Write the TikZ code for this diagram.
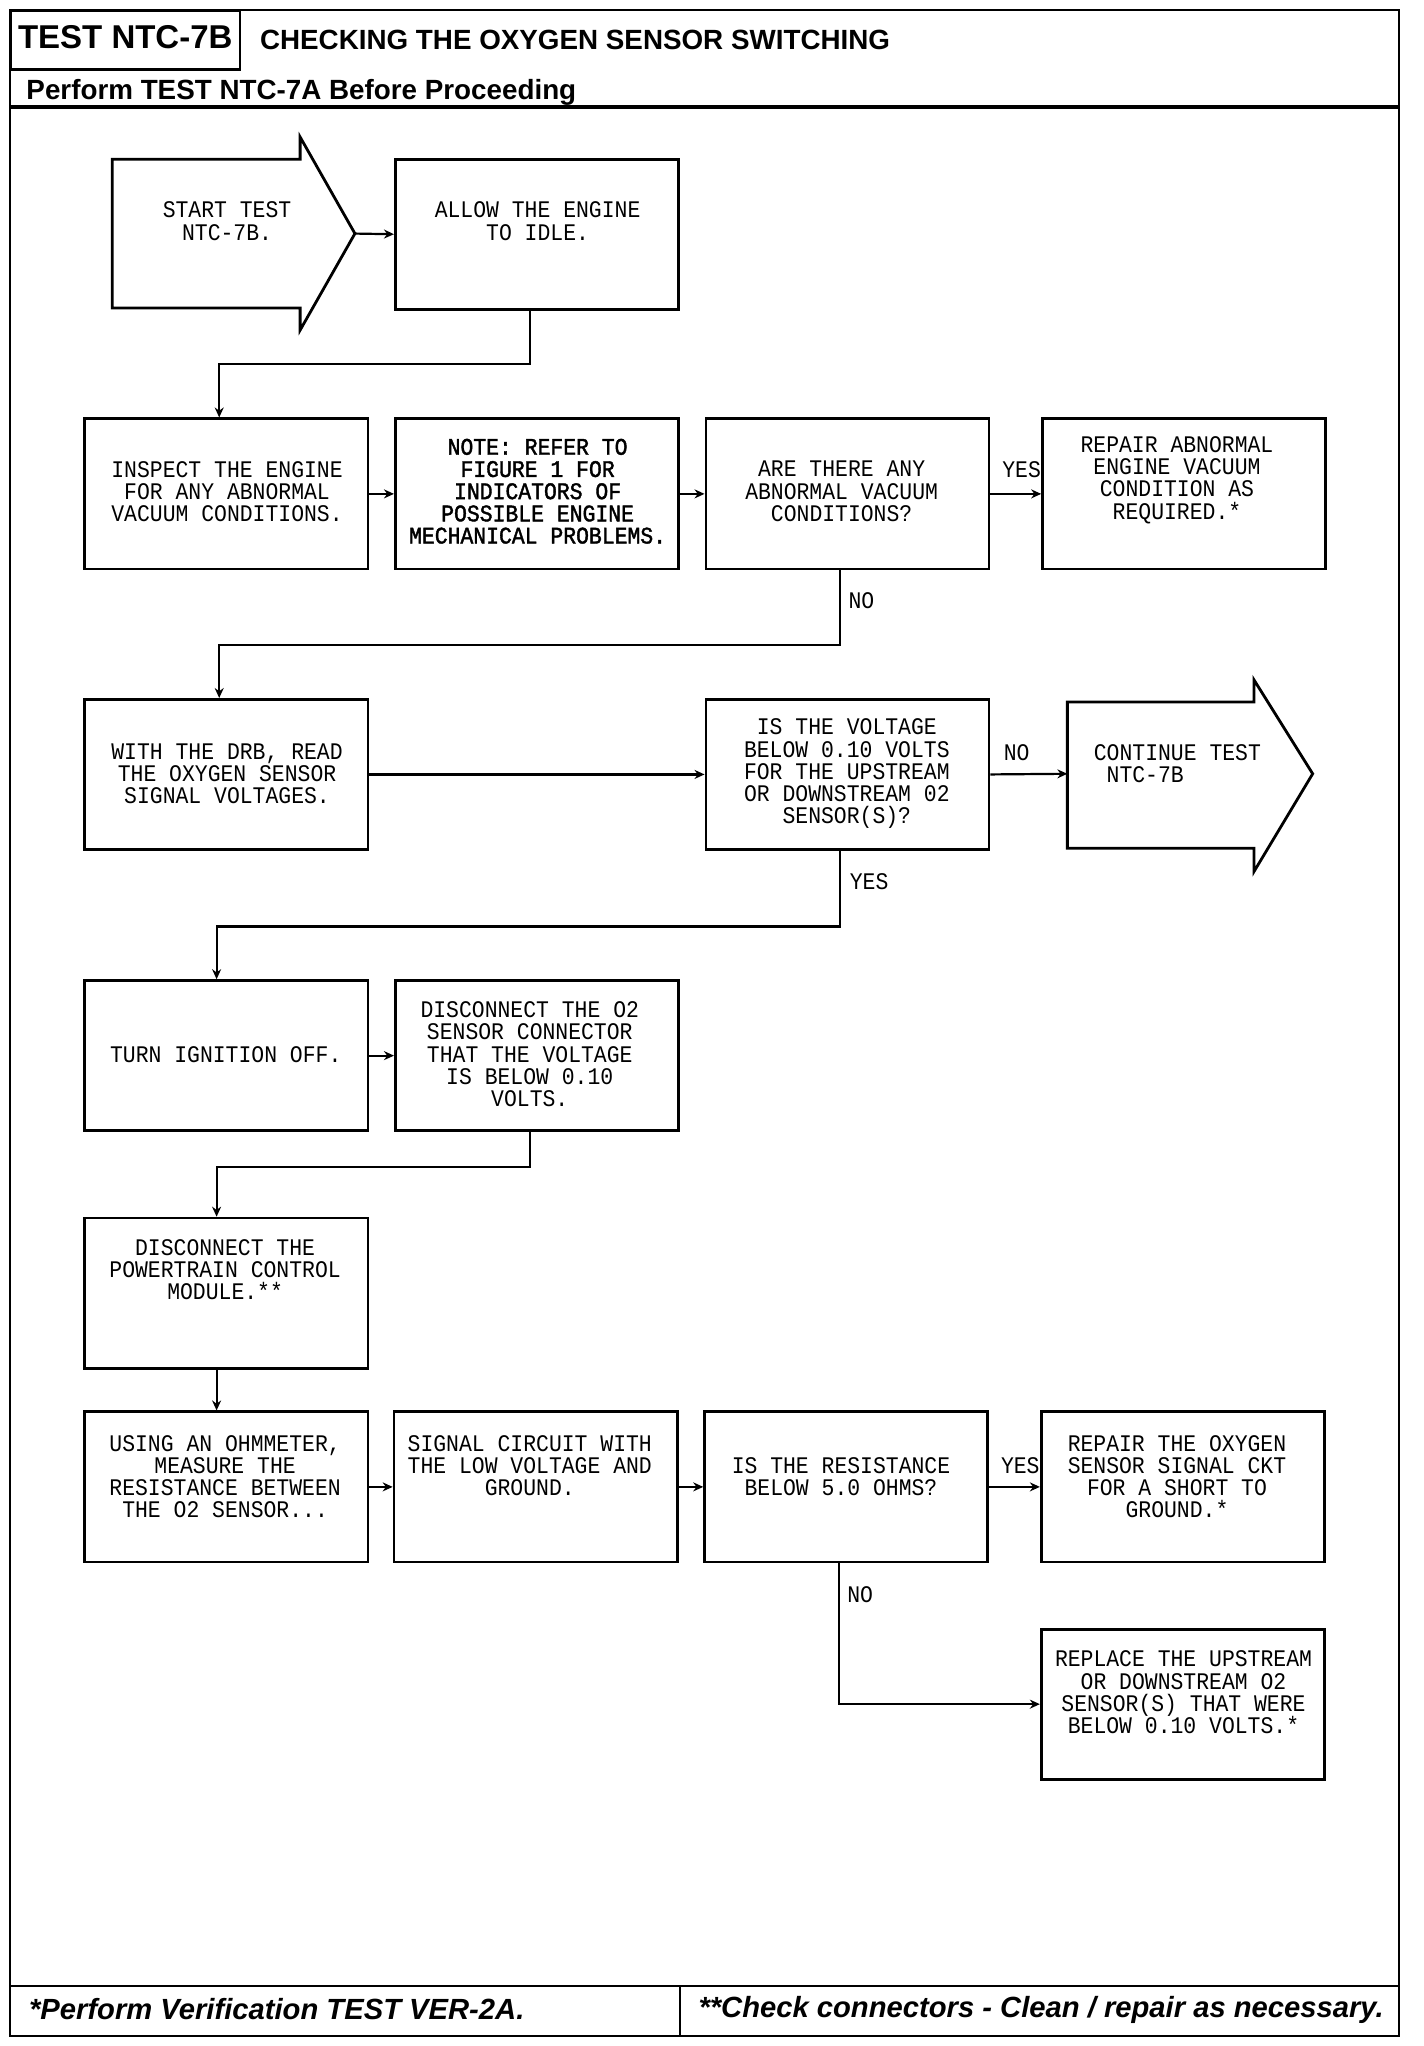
\documentclass[tikz,border=0pt]{standalone}
\usepackage{fontspec}
\setmainfont{Liberation Sans}
\newfontfamily\plotfont[FakeStretch=0.9]{Liberation Mono}
\newfontfamily\plotbold[FakeStretch=0.9,FakeBold=1.6]{Liberation Mono}
\usetikzlibrary{arrows.meta}
\def\pxu{0.6526pt}
\tikzset{
  box/.style={draw, line width=1.4pt, minimum width=217*\pxu, minimum height=115*\pxu, inner sep=0pt},
  txt/.style={font=\plotfont\fontsize{11.9}{11.1}\selectfont, align=center, inner sep=0pt},
  lbl/.style={font=\plotfont\fontsize{11.9}{11.1}\selectfont, inner sep=0pt},
  conn/.style={line width=1.1pt},
  arr/.style={conn, -{Stealth[length=5pt,width=4.5pt]}},
  frameline/.style={line width=1pt},
  shape arrow/.style={draw, line width=1.4pt, line join=miter},
  headfont/.style={font=\bfseries\fontsize{13.9}{15}\selectfont, inner sep=0pt},
  footfont/.style={font=\bfseries\itshape\fontsize{14.6}{16}\selectfont, inner sep=0pt}
}
\begin{document}
\begin{tikzpicture}[x=0.6526pt, y=-0.6526pt]
\useasboundingbox (0,0) rectangle (1091,1568);
% frame
\draw[frameline] (8,8) rectangle (1072,1560);
\draw[line width=1.4pt] (8,8) rectangle (184,53);
\draw[line width=2pt] (8,82) -- (1072,82);
\draw[frameline] (8,1522) -- (1072,1522);
\draw[frameline] (521,1522) -- (521,1560);
\node[font=\bfseries\fontsize{16.5}{18}\selectfont, inner sep=0pt, anchor=base] (hdtest) at (96,37.5) {TEST NTC-7B};
\node[headfont, anchor=base west] (hdtitle) at (199,38) {CHECKING THE OXYGEN SENSOR SWITCHING};
\node[headfont, anchor=base west] (hdperf) at (20,76) {Perform TEST NTC-7A Before Proceeding};
\node[footfont, anchor=west] (ft1) at (22,1540) {*Perform Verification TEST VER-2A.};
\node[footfont, anchor=west] (ft2) at (535,1540) {**Check connectors - Clean / repair as necessary.};

% start arrow
\draw[shape arrow] (86,122) -- (230,122) -- (230,105) -- (272,179) -- (230,253) -- (230,236) -- (86,236) -- cycle;
\coordinate (starttip) at (272,179);
\node[txt] (startt) at (174,169.5) {START TEST\\NTC-7B.};

% continue arrow
\draw[shape arrow] (818,538) -- (961,538) -- (961,521) -- (1006,593) -- (961,668) -- (961,650) -- (818,650) -- cycle;
\coordinate (contin) at (818,593);
\node[txt, align=left, anchor=west] (contt) at (838,585) {CONTINUE TEST\\\hspace*{6.4pt}NTC-7B};

% boxes
\node[box] (allow) at (411.5,179.5) {};
\node[txt] (allowt) at (412,169.5) {ALLOW THE ENGINE\\TO IDLE.};

\node[box] (inspect) at (173.5,378.5) {};
\node[txt] (inspectt) at (174,377) {INSPECT THE ENGINE\\FOR ANY ABNORMAL\\VACUUM CONDITIONS.};
\node[box] (note) at (411.5,378.5) {};
\node[txt, font=\plotbold\fontsize{11.9}{11.1}\selectfont] (notet) at (412,376.5) {NOTE: REFER TO\\FIGURE 1 FOR\\INDICATORS OF\\POSSIBLE ENGINE\\MECHANICAL PROBLEMS.};
\node[box] (are) at (649.5,378.5) {};
\node[txt] (aret) at (645,376.5) {ARE THERE ANY\\ABNORMAL VACUUM\\CONDITIONS?};
\node[box] (repvac) at (907.5,378.5) {};
\node[txt] (repvact) at (902,368) {REPAIR ABNORMAL\\ENGINE VACUUM\\CONDITION AS\\REQUIRED.*};

\node[box] (with) at (173.5,593.5) {};
\node[txt] (witht) at (174,593) {WITH THE DRB, READ\\THE OXYGEN SENSOR\\SIGNAL VOLTAGES.};
\node[box] (isvolt) at (649.5,593.5) {};
\node[txt] (isvoltt) at (649,593) {IS THE VOLTAGE\\BELOW 0.10 VOLTS\\FOR THE UPSTREAM\\OR DOWNSTREAM 02\\SENSOR(S)?};

\node[box] (turn) at (173.5,809) {};
\node[txt] (turnt) at (173,808) {TURN IGNITION OFF.};
\node[box] (disc) at (411.5,809) {};
\node[txt] (disct) at (406,808) {DISCONNECT THE O2\\SENSOR CONNECTOR\\THAT THE VOLTAGE\\IS BELOW 0.10\\VOLTS.};

\node[box] (pcm) at (173.5,991) {};
\node[txt] (pcmt) at (172.5,973) {DISCONNECT THE\\POWERTRAIN CONTROL\\MODULE.**};

\node[box] (using) at (173.5,1139.5) {};
\node[txt] (usingt) at (172.5,1131.5) {USING AN OHMMETER,\\MEASURE THE\\RESISTANCE BETWEEN\\THE O2 SENSOR...};
\node[box] (signal) at (410.5,1139.5) {};
\node[txt] (signalt) at (406,1123) {SIGNAL CIRCUIT WITH\\THE LOW VOLTAGE AND\\GROUND.};
\node[box] (isres) at (648.5,1139.5) {};
\node[txt] (isrest) at (644.5,1131.5) {IS THE RESISTANCE\\BELOW 5.0 OHMS?};
\node[box] (rep2) at (906.5,1139.5) {};
\node[txt] (rep2t) at (902,1131.5) {REPAIR THE OXYGEN\\SENSOR SIGNAL CKT\\FOR A SHORT TO\\GROUND.*};
\node[box] (replace) at (906.5,1306) {};
\node[txt] (replacet) at (907,1297) {REPLACE THE UPSTREAM\\OR DOWNSTREAM O2\\SENSOR(S) THAT WERE\\BELOW 0.10 VOLTS.*};

% connectors
\draw[arr] (starttip) -- (allow.west);
\draw[arr] ([xshift=-5.5*\pxu]allow.south) -- ++(0,41) -| ([xshift=-5.5*\pxu]inspect.north);
\draw[arr] (inspect.east) -- (note.west);
\draw[arr] (note.east) -- (are.west);
\draw[arr] (are.east) -- (repvac.west);
\draw[arr] ([xshift=-5.5*\pxu]are.south) -- ++(0,57) -| ([xshift=-5.5*\pxu]with.north);
\draw[arr] (with.east) -- (isvolt.west);
\draw[arr] (isvolt.east) -- (contin);
\draw[arr] ([xshift=-5.5*\pxu]isvolt.south) -- ++(0,58) -| ([xshift=-7.5*\pxu]turn.north);
\draw[arr] (turn.east) -- (disc.west);
\draw[arr] ([xshift=-5.5*\pxu]disc.south) -- ++(0,27) -| ([xshift=-7.5*\pxu]pcm.north);
\draw[arr] ([xshift=-7.5*\pxu]pcm.south) -- ([xshift=-7.5*\pxu]using.north);
\draw[arr] (using.east) -- (signal.west);
\draw[arr] (signal.east) -- (isres.west);
\draw[arr] (isres.east) -- (rep2.west);
\draw[arr] ([xshift=-5.5*\pxu]isres.south) |- (replace.west);

% labels
\node[lbl, anchor=east] (yes1) at (798,360) {YES};
\node[lbl, anchor=west] (no1) at (650,460) {NO};
\node[lbl, anchor=west] (no2) at (769,577) {NO};
\node[lbl, anchor=west] (yes2) at (651,676) {YES};
\node[lbl, anchor=east] (yes3) at (797,1123) {YES};
\node[lbl, anchor=west] (no3) at (649,1222) {NO};
\end{tikzpicture}
\end{document}
